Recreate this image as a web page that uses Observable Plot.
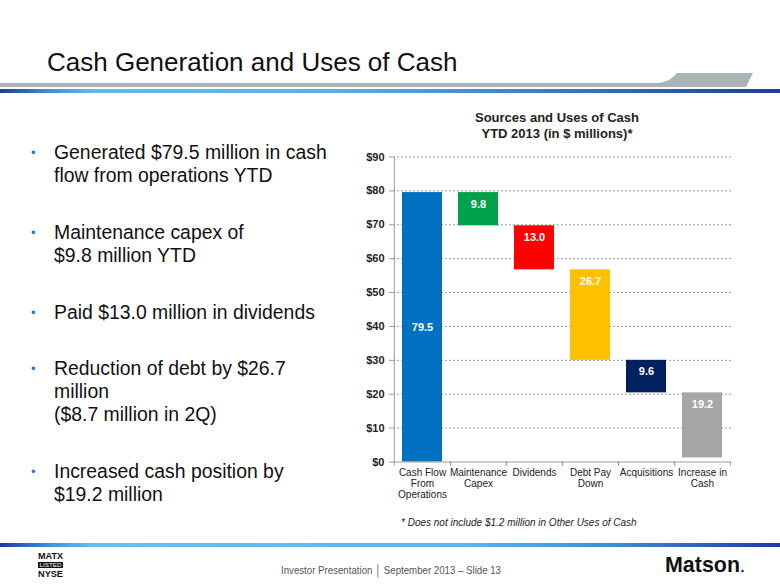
<!DOCTYPE html>
<html><head><meta charset="utf-8">
<script src="https://cdn.jsdelivr.net/npm/d3@7"></script>
<script src="https://cdn.jsdelivr.net/npm/@observablehq/plot@0.6"></script>
<style>
html,body{margin:0;padding:0;background:#fff;}
body{width:780px;height:585px;position:relative;overflow:hidden;font-family:"Liberation Sans",Arial,sans-serif;color:#111;}
#deco{position:absolute;left:0;top:0;}
#title{position:absolute;left:47px;top:47px;font-size:26px;line-height:30px;white-space:nowrap;color:#111;}
.bul{position:absolute;left:54px;font-size:19.4px;line-height:23px;white-space:nowrap;color:#111;}
.bul .dot{position:absolute;left:-23px;top:0;font-size:13px;line-height:23px;color:#2a6fd6;}
#ctitle{position:absolute;left:437px;width:240px;top:110px;text-align:center;font-weight:bold;font-size:13px;line-height:16px;color:#222;}
#chart{position:absolute;left:340px;top:146px;}
#note{position:absolute;left:401px;top:517px;font-style:italic;font-size:10px;line-height:12px;color:#222;white-space:nowrap;}
</style>
</head><body>
<svg id="deco" width="780" height="585">
  <defs>
    <linearGradient id="bl" x1="0" x2="1" y1="0" y2="0">
      <stop offset="0" stop-color="#1c3c9c"/>
      <stop offset="0.06" stop-color="#3d8ddb"/>
      <stop offset="0.12" stop-color="#5cbdee"/>
      <stop offset="0.42" stop-color="#55b2ea"/>
      <stop offset="0.65" stop-color="#3f86d4"/>
      <stop offset="1" stop-color="#1a3ea0"/>
    </linearGradient>
    <linearGradient id="bl2" x1="0" x2="1" y1="0" y2="0">
      <stop offset="0" stop-color="#1c3c9c"/>
      <stop offset="0.06" stop-color="#3d8ddb"/>
      <stop offset="0.12" stop-color="#64c3f0"/>
      <stop offset="0.6" stop-color="#5ab6ec"/>
      <stop offset="0.8" stop-color="#3f86d4"/>
      <stop offset="1" stop-color="#1a3ea0"/>
    </linearGradient>
  </defs>
  <path d="M0,83 L658,83 Q670,82 677,73 L753,73 L746,87 L0,87 Z" fill="#abb3b7"/>
  <rect x="0" y="89" width="780" height="4" fill="url(#bl)"/>
  <rect x="0" y="543" width="780" height="4" fill="url(#bl2)"/>
  <text x="38" y="559" font-size="9" font-weight="bold" textLength="25" lengthAdjust="spacingAndGlyphs" fill="#111">MATX</text>
  <rect x="38" y="562" width="25" height="6" fill="#111"/>
  <text x="50.5" y="567" font-size="5" text-anchor="middle" fill="#fff" textLength="22" lengthAdjust="spacingAndGlyphs">LISTED</text>
  <text x="38" y="577" font-size="9" font-weight="bold" textLength="25" lengthAdjust="spacingAndGlyphs" fill="#111">NYSE</text>
  <text x="281" y="574" font-size="11.5" fill="#555" textLength="220" lengthAdjust="spacingAndGlyphs">Investor Presentation │ September 2013 – Slide 13</text>
  <text x="665" y="572" font-size="22" font-weight="bold" fill="#111" textLength="75" lengthAdjust="spacingAndGlyphs">Matson</text>
  <circle cx="742.5" cy="571" r="1.2" fill="#111"/>
</svg>
<div id="title">Cash Generation and Uses of Cash</div>
<div class="bul" style="top:141px"><span class="dot">•</span>Generated $79.5 million in cash<br>flow from operations YTD</div>
<div class="bul" style="top:221px"><span class="dot">•</span>Maintenance capex of<br>$9.8 million YTD</div>
<div class="bul" style="top:301px"><span class="dot">•</span>Paid $13.0 million in dividends</div>
<div class="bul" style="top:357px"><span class="dot">•</span>Reduction of debt by $26.7<br>million<br>($8.7 million in 2Q)</div>
<div class="bul" style="top:460px"><span class="dot">•</span>Increased cash position by<br>$19.2 million</div>
<div id="ctitle">Sources and Uses of Cash<br>YTD 2013 (in $ millions)*</div>
<div id="chart"></div>
<div id="note">* Does not include $1.2 million in Other Uses of Cash</div>
<script>
const categories = ["Cash Flow\nFrom\nOperations", "Maintenance\nCapex", "Dividends", "Debt Pay\nDown", "Acquisitions", "Increase in\nCash"];
const amounts = [79.5, 9.8, 13.0, 26.7, 9.6, 19.2];
const barBottoms = [0, 69.7, 56.7, 30.0, 20.4, 1.2];
const barTops = [79.5, 79.5, 69.7, 56.7, 30.0, 20.4];
const barColors = ["#0070c0", "#00a14b", "#ff0000", "#ffc000", "#002060", "#a6a6a6"];
const yTicks = [0, 10, 20, 30, 40, 50, 60, 70, 80, 90];
const yTickLabels = ["$0", "$10", "$20", "$30", "$40", "$50", "$60", "$70", "$80", "$90"];

const rows = categories.map((c, i) => ({
  category: c, amount: amounts[i], bottom: barBottoms[i], top: barTops[i], color: barColors[i], i
}));

const W = 420, H = 364, mL = 53, mR = 29, mT = 10.5, mB = 48.5;
const step = (W - mL - mR) / categories.length;
const axisColor = "#9a9a9a";

const chart = Plot.plot({
  width: W, height: H,
  marginLeft: mL, marginRight: mR, marginTop: mT, marginBottom: mB,
  style: {fontFamily: "'Liberation Sans', Arial, sans-serif", fontSize: "10px", color: "#222", background: "transparent", overflow: "visible"},
  x: {domain: categories, paddingInner: 0.29, paddingOuter: 0.145},
  y: {domain: [0, 90]},
  color: {type: "identity"},
  marks: [
    Plot.gridY({ticks: yTicks.filter(d => d > 0), stroke: axisColor, strokeOpacity: 1, strokeDasharray: "2,2"}),
    Plot.barY(rows, {x: "category", y1: "bottom", y2: "top", fill: "color"}),
    Plot.text(rows.filter(d => d.i === 0), {x: "category", y: d => (d.bottom + d.top) / 2, text: d => d.amount.toFixed(1), fill: "white", fontWeight: "bold", fontSize: 11}),
    Plot.text(rows.filter(d => d.i > 0), {x: "category", y: "top", dy: 11.5, text: d => d.amount.toFixed(1), fill: "white", fontWeight: "bold", fontSize: 11}),
    Plot.ruleY([0], {stroke: axisColor}),
    Plot.ruleX([categories[0]], {x: d => d, y1: 0, y2: 90, dx: -step / 2, stroke: axisColor}),
    Plot.axisY({ticks: yTicks, tickFormat: d => yTickLabels[yTicks.indexOf(d)], tickSize: 4, tickPadding: 5, fontWeight: "bold", fontSize: 11, stroke: axisColor, label: null}),
    Plot.axisX({tickSize: 4, tickFormat: () => "", dx: -step / 2, stroke: axisColor, label: null}),
    Plot.axisX({tickSize: 4, tickFormat: () => "", dx: step / 2, stroke: axisColor, label: null}),
    Plot.axisX({tickSize: 0, tickPadding: 6, fontSize: 10, lineHeight: 1.1, label: null})
  ]
});
document.getElementById("chart").appendChild(chart);
</script>
</body></html>
